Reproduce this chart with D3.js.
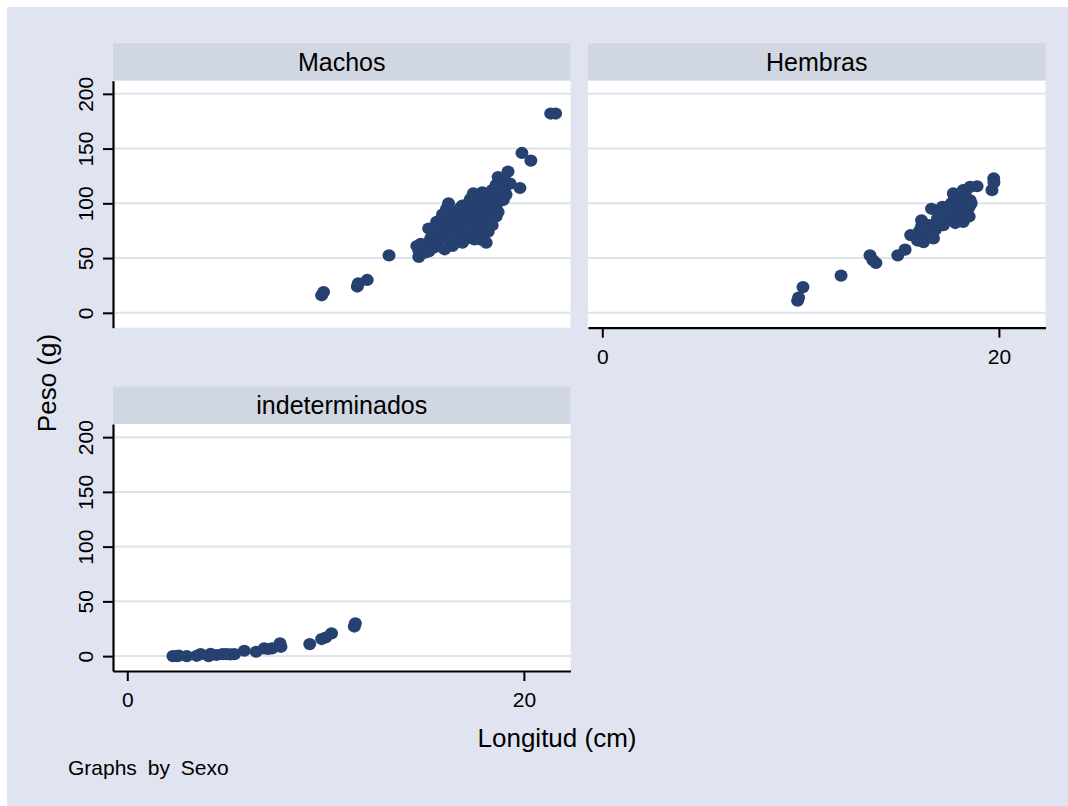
<!DOCTYPE html>
<html>
<head>
<meta charset="utf-8">
<script src="https://cdn.jsdelivr.net/npm/d3@7"></script>
<style>
  body { margin: 0; background: #fff; }
  svg text { font-family: "Liberation Sans", Arial, sans-serif; fill: #000; }
</style>
</head>
<body>
<div id="chart"></div>
<script>
'use strict';

// Longitud (cm), Peso (g)
const machos = [
  [9.8, 16], [9.9, 19], [11.6, 24], [11.65, 27], [12.1, 30], [13.2, 52.5],
  [14.6, 61], [14.7, 51], [14.7, 57], [14.8, 63], [15.0, 55], [15.2, 56], [15.2, 77],
  [15.3, 68], [15.4, 63], [15.5, 60], [15.6, 83], [15.6, 72], [15.7, 66], [15.8, 78],
  [15.9, 90], [15.9, 70], [16.0, 74], [16.1, 82], [16.2, 100], [16.2, 88], [16.3, 66],
  [16.4, 61], [16.4, 78], [16.5, 85], [16.6, 72], [16.7, 92], [16.8, 80], [16.9, 74],
  [16.9, 98], [17.0, 88], [17.0, 94], [17.1, 68], [17.2, 82], [17.3, 104], [17.35, 85],
  [17.4, 76], [17.45, 109], [17.5, 67], [17.5, 92], [17.6, 98], [17.7, 100], [17.7, 80],
  [17.8, 88], [17.9, 94], [17.9, 110], [18.0, 66], [18.0, 75], [18.1, 64], [18.1, 104],
  [18.2, 83], [18.3, 92], [18.4, 100], [18.5, 112], [18.6, 117], [18.6, 88], [18.7, 92],
  [18.7, 124], [18.8, 106], [18.9, 120], [18.96, 103], [19.0, 112], [19.2, 129],
  [19.3, 118], [19.8, 114], [19.9, 146], [20.35, 139], [21.35, 182], [21.6, 182],
  [15.0, 62], [15.4, 70], [15.6, 76], [15.8, 85], [16.0, 80], [16.1, 95], [16.3, 84],
  [16.5, 76], [16.5, 92], [16.6, 88], [16.7, 82], [16.8, 96], [16.9, 86], [17.0, 78],
  [17.1, 90], [17.2, 100], [17.3, 95], [17.4, 90], [17.5, 102], [17.6, 86], [17.7, 94],
  [17.8, 105], [17.9, 84], [17.9, 100], [18.0, 90], [18.1, 96], [18.2, 108], [18.3, 86],
  [18.4, 112], [18.5, 104], [18.6, 98], [18.7, 110], [18.8, 115], [19.0, 122], [19.1, 108],
  [17.3, 72], [16.2, 70], [15.5, 66], [16.9, 64], [17.7, 72], [18.2, 74], [18.4, 80],
  [16.0, 58], [15.3, 58], [17.2, 74], [17.8, 67],
];

const hembras = [
  [9.85, 11], [9.9, 14], [10.12, 23.5], [12.04, 34], [13.5, 52.5], [13.65, 48],
  [13.8, 45.5], [14.9, 52.5], [15.27, 57.7], [15.55, 71], [15.9, 66], [16.0, 75],
  [16.1, 84.5], [16.1, 79], [16.2, 64.6], [16.4, 72], [16.6, 95], [16.7, 68], [16.8, 76],
  [16.9, 86], [17.0, 80], [17.15, 96.7], [17.2, 80], [17.3, 90], [17.4, 85], [17.5, 94],
  [17.6, 100], [17.7, 109], [17.7, 87.5], [17.75, 104], [17.8, 92], [17.9, 98],
  [18.0, 99.8], [18.0, 84], [18.1, 106], [18.2, 83], [18.2, 95], [18.3, 100], [18.4, 91],
  [18.5, 96.7], [18.55, 102.8], [18.55, 115], [18.9, 115.6], [19.65, 112], [19.74, 122.7],
  [19.75, 119], [17.6, 92], [17.9, 104], [18.1, 92], [18.3, 108], [18.4, 96], [18.5, 88],
  [18.6, 100], [17.4, 96], [17.0, 88], [16.5, 80], [16.3, 74], [18.2, 112], [17.8, 82],
];

const indeterminados = [
  [2.3, 0], [2.5, 0], [2.6, 0.5], [3.0, 0], [3.5, 0.3], [3.7, 1.8], [4.1, 0], [4.2, 2],
  [4.5, 1], [4.8, 1.8], [5.0, 1.8], [5.2, 1.5], [5.4, 1.8], [5.9, 4.9], [6.5, 4], [6.9, 7],
  [7.1, 6.5], [7.3, 7], [7.7, 11.6], [7.75, 8.5], [9.2, 11], [9.8, 15.6], [10.0, 17],
  [10.3, 20.8], [11.45, 27], [11.5, 30],
];

const xTicks = [0, 20];
const yTicks = [0, 50, 100, 150, 200];

const width = 1068;
const height = 806;
const panelWidth = 457.5;
const plotHeight = 247;
const stripHeight = 37.4;

const bgColor = '#e0e4f0';
const stripColor = '#d0d6e2';
const gridColor = '#dfe3ef';
const markerColor = '#26406f';

const panels = [
  { title: 'Machos', data: machos, left: 113, top: 80.7, showX: false, showY: true },
  { title: 'Hembras', data: hembras, left: 588, top: 80.7, showX: true, showY: false },
  { title: 'indeterminados', data: indeterminados, left: 113, top: 424, showX: true, showY: true },
];

const svg = d3.select('#chart')
  .append('svg')
  .attr('width', width)
  .attr('height', height);

// graph region
svg.append('rect')
  .attr('x', 7)
  .attr('y', 7)
  .attr('width', width - 7)
  .attr('height', height - 7)
  .attr('fill', bgColor);

panels.forEach((p) => {
  const x = d3.scaleLinear()
    .domain([-0.72, 22.35])
    .range([p.left, p.left + panelWidth]);

  const y = d3.scaleLinear()
    .domain([-13.6, 212])
    .range([p.top + plotHeight, p.top]);

  // header strip with the group name
  svg.append('rect')
    .attr('x', p.left)
    .attr('y', p.top - stripHeight)
    .attr('width', panelWidth)
    .attr('height', stripHeight)
    .attr('fill', stripColor);

  svg.append('text')
    .attr('x', p.left + panelWidth / 2)
    .attr('y', p.top - stripHeight / 2 + 9)
    .attr('text-anchor', 'middle')
    .style('font-size', '25px')
    .text(p.title);

  // plot region
  svg.append('rect')
    .attr('x', p.left)
    .attr('y', p.top)
    .attr('width', panelWidth)
    .attr('height', plotHeight)
    .attr('fill', '#fff');

  svg.append('g')
    .selectAll('line')
    .data(yTicks)
    .join('line')
    .attr('x1', p.left)
    .attr('x2', p.left + panelWidth)
    .attr('y1', (d) => y(d))
    .attr('y2', (d) => y(d))
    .attr('stroke', gridColor)
    .attr('stroke-width', 2);

  svg.append('g')
    .selectAll('ellipse')
    .data(p.data)
    .join('ellipse')
    .attr('cx', (d) => x(d[0]))
    .attr('cy', (d) => y(d[1]))
    .attr('rx', 6.5)
    .attr('ry', 6.1)
    .attr('fill', markerColor);

  if (p.showY) {
    const yAxis = d3.axisLeft(y)
      .tickValues(yTicks)
      .tickSize(10)
      .tickSizeOuter(0);

    const gy = svg.append('g')
      .attr('transform', `translate(${p.left}, 0)`)
      .call(yAxis);

    gy.select('.domain').attr('stroke-width', 2.2);
    gy.selectAll('.tick line').attr('stroke-width', 2);
    // labels are turned to read upwards, as in the original
    gy.selectAll('.tick text')
      .attr('x', 0)
      .attr('y', -20)
      .attr('dy', 0)
      .attr('text-anchor', 'middle')
      .attr('transform', 'rotate(-90)')
      .style('font-size', '21px');
  }

  if (p.showX) {
    const xAxis = d3.axisBottom(x)
      .tickValues(xTicks)
      .tickSize(10)
      .tickSizeOuter(0);

    const gx = svg.append('g')
      .attr('transform', `translate(0, ${p.top + plotHeight})`)
      .call(xAxis);

    gx.select('.domain').attr('stroke-width', 2.2);
    gx.selectAll('.tick line').attr('stroke-width', 2);
    gx.selectAll('.tick text')
      .attr('y', 36)
      .attr('dy', 0)
      .style('font-size', '21px');
  }

  svg.selectAll('.domain, .tick line').attr('stroke', '#000');
  svg.selectAll('.tick text').attr('fill', '#000').style('font-family', '"Liberation Sans", Arial, sans-serif');
});

// axis titles
svg.append('text')
  .attr('x', 557)
  .attr('y', 747)
  .attr('text-anchor', 'middle')
  .style('font-size', '26px')
  .text('Longitud (cm)');

svg.append('text')
  .attr('transform', 'translate(56, 383) rotate(-90)')
  .attr('text-anchor', 'middle')
  .style('font-size', '26px')
  .text('Peso (g)');

svg.append('text')
  .attr('x', 68)
  .attr('y', 775)
  .style('font-size', '21px')
  .style('word-spacing', '5px')
  .text('Graphs by Sexo');
</script>
</body>
</html>
